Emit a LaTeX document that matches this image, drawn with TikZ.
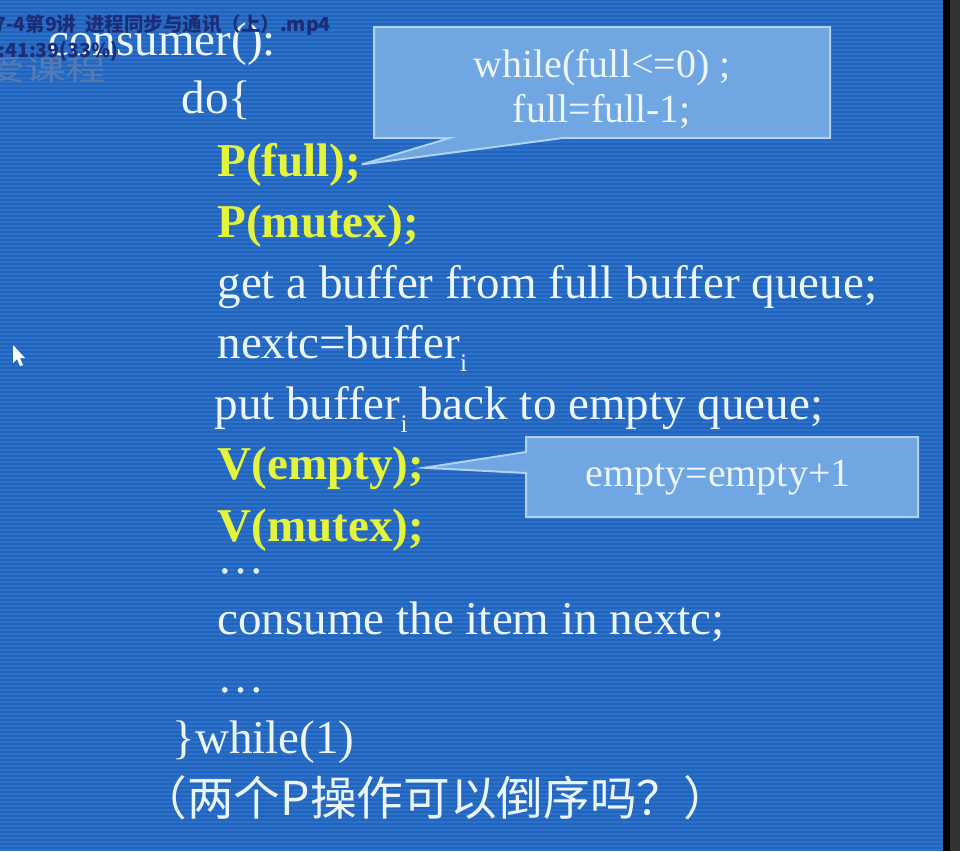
\documentclass[tikz,border=0pt]{standalone}
\usepackage{fontspec}
\usepackage{graphicx}
\setmainfont{Liberation Serif}
\newfontfamily\cjk{Noto Sans CJK SC}
\definecolor{slidebg}{RGB}{32,100,190}
\definecolor{scanline}{RGB}{44,112,200}
\definecolor{codewhite}{RGB}{236,246,255}
\definecolor{keyyellow}{RGB}{228,244,60}
\definecolor{notefill}{RGB}{112,166,226}
\definecolor{noteline}{RGB}{176,210,244}
\definecolor{overlaytext}{RGB}{28,44,118}
\definecolor{markgray}{RGB}{88,124,178}
\newcommand\codesize{\fontsize{35.3}{40}\selectfont}
\newcommand\notesize{\fontsize{30}{34}\selectfont}
\newcommand\subi{\raisebox{-0.28em}{\fontsize{19}{19}\selectfont i}}

\tikzset{every picture/.style={line width=0.75pt}}
\tikzset{
  code/.style={anchor=base west, inner sep=0pt, text=codewhite, font=\codesize},
  keyline/.style={code, text=keyyellow, font=\codesize\bfseries},
  note/.style={fill=notefill, draw=noteline, line width=1.5pt},
  notetext/.style={anchor=base, inner sep=0pt, text=codewhite, font=\notesize},
  overlay/.style={anchor=base west, inner sep=0pt, text=overlaytext, font=\cjk\bfseries\fontsize{14.6}{15}\selectfont}
}

\begin{document}
\begin{tikzpicture}[x=0.75pt,y=0.75pt,yscale=-1,xscale=1]
    \useasboundingbox (0,0) rectangle (960,851);

    %Shape: Rectangle [slide background]
    \fill[slidebg] (0,0) rectangle (943,851);
    \foreach \y in {2,6,...,851} \draw[scanline, line width=1pt] (0,\y) -- (943,\y);
    %Shape: Rectangle [screen edge]
    \fill[black] (943,0) rectangle (950,851);
    \fill[black!80!white] (950,0) rectangle (960,851);

    % Text Node [watermark]
    \node[anchor=base west, inner sep=0pt, text=markgray, font=\cjk\fontsize{21}{21}\selectfont] (mark) at (-16,80) {\scalebox{1.45}[1]{爱课程}};

    % Text Node [code]
    \node[code] (consumer) at (48,55) {consumer():};
    \node[code] (doline) at (181,113) {do\{};
    \node[keyline] (pfull) at (217,176) {P(full);};
    \node[keyline] (pmutex) at (217,237) {P(mutex);};
    \node[code] (getbuf) at (217,298) {get a buffer from full buffer queue;};
    \node[code] (nextc) at (217,358) {nextc=buffer\subi};
    \node[code] (putbuf) at (214,419) {put buffer\subi{} back to empty queue;};
    \node[keyline] (vempty) at (217,479) {V(empty);};
    \node[keyline] (vmutex) at (217,541) {V(mutex);};
    \node[code] (dotsa) at (217,573) {…};
    \node[code] (consume) at (217,634) {consume the item in nextc;};
    \node[code] (dotsb) at (217,692) {…};
    \node[code] (whileone) at (172,753) {\}while(1)};
    \node[code, font=\cjk\fontsize{35}{35}\selectfont] (question) at (140,815) {（两个P操作可以倒序吗？）};

    %Shape: Callout [full]
    \draw[note] (374,27) -- (830,27) -- (830,138) -- (563,138) -- (pfull.east) -- (450,138) -- (374,138) -- cycle;
    \node[notetext] (whilenote) at (602,77) {while(full<=0) ;};
    \node[notetext] (decnote) at (602,122) {full=full-1;};

    %Shape: Callout [empty]
    \draw[note] (526,437) -- (918,437) -- (918,517) -- (526,517) -- (526,473) -- (vempty.east) -- (526,452) -- cycle;
    \node[notetext] (incnote) at (718,486) {empty=empty+1};

    % Text Node [player overlay]
    \node[overlay] (title) at (-6,31) {7-4第9讲\ \ 进程同步与通讯（上）.mp4};
    \node[overlay] (time) at (-2,57) {:41:39(33\%)};

    %Shape: Cursor
    \fill[white] (13,345) -- (13,363) -- (17,359) -- (20,366) -- (23,365) -- (20,358) -- (25,358) -- cycle;
\end{tikzpicture}
\end{document}
